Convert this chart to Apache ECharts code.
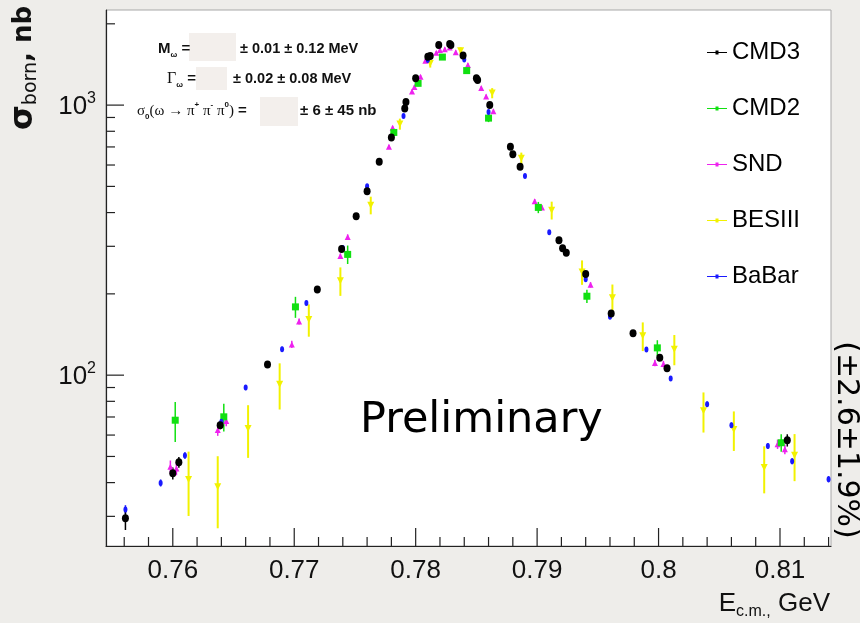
<!DOCTYPE html>
<html>
<head>
<meta charset="utf-8">
<script src="https://cdn.jsdelivr.net/npm/echarts@6/dist/echarts.min.js"></script>
<style>
  html, body { margin: 0; padding: 0; background: #eeedea; }
  #chart { width: 860px; height: 623px; }
</style>
</head>
<body>
<div id="chart"></div>
<script>
// e+e- -> pi+ pi- pi0 Born cross section near the omega peak, by experiment.
// Each experiment: c.m. energy (GeV), cross section (nb), statistical error (nb).
const cmd3Energy = [0.7561, 0.7600, 0.7605, 0.7639, 0.7678, 0.7719, 0.7739, 0.7751, 0.7760, 0.7770,
  0.7780, 0.7791, 0.7792, 0.7800, 0.7810, 0.7812, 0.7819, 0.7828, 0.7829, 0.7839,
  0.7850, 0.7851, 0.7861, 0.7878, 0.7880, 0.7886, 0.7918, 0.7921, 0.7924, 0.7940,
  0.7961, 0.7979, 0.8001, 0.8007, 0.8106];
const cmd3Sigma = [29.5, 43.3, 47.6, 65.3, 109.6, 207.7, 293, 388, 480, 617,
  759, 972, 1026, 1256, 1510, 1519, 1668, 1682, 1668, 1525,
  1256, 1240, 1000, 701, 657, 591, 316, 295, 284, 237,
  169, 143, 116, 106, 57.4];
const cmd3Err = [2.8, 2.2, 2.2, 2.2, 2.5, 4, 5, 8, 9, 10,
  12, 14, 15, 17, 19, 19, 21, 21, 21, 20,
  17, 17, 14, 10, 10, 9, 6, 5, 5, 5,
  4, 3.5, 3, 3, 3];

const cmd2Energy = [0.7602, 0.7642, 0.7701, 0.7744, 0.7782, 0.7802, 0.7822, 0.7842, 0.7860, 0.7901,
  0.7941, 0.7999, 0.8101];
const cmd2Sigma = [68.1, 70.1, 179, 280, 792, 1204, 1506, 1342, 895, 418,
  196, 126.2, 56.2];
const cmd2Err = [11.5, 8.2, 16, 22, 25, 30, 35, 32, 30, 20,
  11, 8.5, 4.2];

const sndEnergy = [0.7598, 0.7603, 0.7637, 0.7644, 0.7698, 0.7704, 0.7738, 0.7744, 0.7778, 0.7781,
  0.7797, 0.7799, 0.7804, 0.7808, 0.7817, 0.7820, 0.7824, 0.7828, 0.7833, 0.7843,
  0.7854, 0.7858, 0.7864, 0.7898, 0.7904, 0.7944, 0.7997, 0.8004, 0.8098, 0.8104];
const sndSigma = [45.8, 45.1, 62.6, 67.7, 130, 158, 276, 325, 701, 824,
  1122, 1166, 1273, 1459, 1562, 1599, 1610, 1633, 1571, 1407,
  1156, 1077, 948, 441, 418, 216, 111, 110, 55.5, 53.2];
const sndErr = [2.5, 2.5, 3, 3, 4, 4, 6, 7, 12, 14,
  18, 18, 20, 22, 23, 24, 24, 24, 23, 21,
  18, 17, 15, 8, 8, 5, 3, 3, 2.2, 2.2];

const bes3Energy = [0.7613, 0.7637, 0.7662, 0.7688, 0.7712, 0.7738, 0.7763, 0.7787, 0.7812, 0.7837,
  0.7863, 0.7887, 0.7912, 0.7937, 0.7962, 0.7987, 0.8013, 0.8037, 0.8062, 0.8087,
  0.8112];
const bes3Sigma = [41.1, 38.6, 63.4, 92.6, 160.8, 223.6, 426, 851, 1427, 1589,
  1108, 635, 408, 241, 193.6, 139.8, 124.8, 73.8, 62.9, 45.5,
  50.5];
const bes3Err = [11, 11.5, 14, 18, 22, 27, 32, 40, 50, 48,
  48, 32, 31, 25, 23, 17, 16, 12.5, 10.5, 9,
  10];

const babarEnergy = [0.7561, 0.7590, 0.7610, 0.7640, 0.7660, 0.7690, 0.7710, 0.7740, 0.7760, 0.7790,
  0.7810, 0.7840, 0.7860, 0.7890, 0.7910, 0.7940, 0.7960, 0.7990, 0.8010, 0.8040,
  0.8060, 0.8090, 0.8110, 0.8140];
const babarSigma = [31.8, 39.9, 50.4, 67.2, 90.0, 124.8, 185, 296, 501, 911,
  1468, 1474, 942, 546, 338, 226.7, 164.4, 124.5, 97.2, 78.1,
  65.3, 54.7, 48, 41.2];
const babarErr = [1.2, 1.2, 1.4, 1.7, 2, 2.5, 3.5, 5, 8, 14,
  20, 20, 14, 9, 6, 4, 3, 2.5, 2, 1.8,
  1.5, 1.3, 1.2, 1.1];

// Axis ranges and tick positions
const xRange = [0.7545, 0.8142];
const yRange = [23.3, 2250];
const xMajorTicks = [0.76, 0.77, 0.78, 0.79, 0.80, 0.81];
const xMinorTicks = [0.756, 0.758, 0.762, 0.764, 0.766, 0.768, 0.772, 0.774, 0.776, 0.778,
  0.782, 0.784, 0.786, 0.788, 0.792, 0.794, 0.796, 0.798, 0.802, 0.804, 0.806, 0.808, 0.812, 0.814];
const yMajorTicks = [100, 1000];
const yMinorTicks = [30, 40, 50, 60, 70, 80, 90, 200, 300, 400, 500, 600, 700, 800, 900, 2000];

const legendNames = ['CMD3', 'CMD2', 'SND', 'BESIII', 'BaBar'];

const NARROW = '"Liberation Sans Narrow", "Liberation Sans", Arial, sans-serif';

const experiments = [
  { name: 'BESIII', e: bes3Energy, s: bes3Sigma, d: bes3Err, color: '#f2f200', symbol: 'triangle', rotate: 180, size: 7, lw: 2 },
  { name: 'SND', e: sndEnergy, s: sndSigma, d: sndErr, color: '#ee22ee', symbol: 'triangle', rotate: 0, size: 6, lw: 1.5 },
  { name: 'CMD2', e: cmd2Energy, s: cmd2Sigma, d: cmd2Err, color: '#11e011', symbol: 'rect', rotate: 0, size: 7, lw: 1.5 },
  { name: 'BaBar', e: babarEnergy, s: babarSigma, d: babarErr, color: '#1a1aff', symbol: 'circle', rotate: 0, size: [4, 6], lw: 1.5 },
  { name: 'CMD3', e: cmd3Energy, s: cmd3Sigma, d: cmd3Err, color: '#000000', symbol: 'circle', rotate: 0, size: [7, 8], lw: 1.5 }
];

const series = [];
experiments.forEach(function (ex) {
  // vertical error bars
  series.push({
    name: ex.name + ' errors',
    type: 'custom',
    silent: true,
    data: ex.e.map(function (x, i) { return [x, ex.s[i], ex.d[i]]; }),
    encode: { x: 0, y: 1 },
    renderItem: function (params, api) {
      const x = api.value(0), y = api.value(1), d = api.value(2);
      const lo = api.coord([x, Math.max(y - d, yRange[0])]);
      const hi = api.coord([x, y + d]);
      return {
        type: 'line',
        shape: { x1: lo[0], y1: lo[1], x2: hi[0], y2: hi[1] },
        style: { stroke: ex.color, lineWidth: ex.lw }
      };
    },
    z: 3
  });
  // markers
  series.push({
    name: ex.name,
    type: 'scatter',
    silent: true,
    data: ex.e.map(function (x, i) { return [x, ex.s[i]]; }),
    symbol: ex.symbol,
    symbolRotate: ex.rotate,
    symbolSize: ex.size,
    itemStyle: { color: ex.color, opacity: 1 },
    z: 4
  });
});

// tick marks drawn inside the frame
function tickSeries(name, data, len, horizontal) {
  return {
    name: name,
    type: 'custom',
    silent: true,
    data: data,
    encode: { x: 0, y: 1 },
    renderItem: function (params, api) {
      const p = api.coord([api.value(0), api.value(1)]);
      const shape = horizontal
        ? { x1: p[0], y1: p[1], x2: p[0] + len, y2: p[1] }
        : { x1: p[0], y1: p[1], x2: p[0], y2: p[1] - len };
      return { type: 'line', shape: shape, style: { stroke: '#222', lineWidth: 1.2 } };
    },
    z: 2
  };
}
series.push(tickSeries('x major', xMajorTicks.map(function (v) { return [v, yRange[0]]; }), 18, false));
series.push(tickSeries('x minor', xMinorTicks.map(function (v) { return [v, yRange[0]]; }), 9, false));
series.push(tickSeries('y major', yMajorTicks.map(function (v) { return [xRange[0], v]; }), 18, true));
series.push(tickSeries('y minor', yMinorTicks.map(function (v) { return [xRange[0], v]; }), 9, true));

function legendIcon() {
  return 'path://M0,1.5H20V2.5H0ZM8.5,0H11.5V4H8.5Z';
}

const chart = echarts.init(document.getElementById('chart'), null, { renderer: 'canvas' });
chart.setOption({
  backgroundColor: '#eeedea',
  animation: false,
  grid: {
    left: 106, right: 29, top: 10, bottom: 77,
    show: true, backgroundColor: '#ffffff', borderColor: '#a8a8a8', borderWidth: 1
  },
  legend: {
    data: legendNames.map(function (n) { return { name: n, icon: legendIcon() }; }),
    orient: 'vertical',
    left: 702, top: 33,
    itemWidth: 20, itemHeight: 4,
    itemGap: 27,
    selectedMode: false,
    textStyle: { fontFamily: NARROW, fontSize: 24, color: '#000', lineHeight: 29, padding: [0, 0, 0, 0] }
  },
  xAxis: {
    type: 'value',
    min: xRange[0], max: xRange[1],
    axisLine: { onZero: false, lineStyle: { color: '#222', width: 1.2 } },
    axisTick: { show: false },
    splitLine: { show: false },
    axisLabel: {
      margin: 12,
      fontFamily: NARROW, fontSize: 26, color: '#111',
      formatter: function (v) {
        if (Math.abs(v * 100 - Math.round(v * 100)) > 1e-6) return '';
        return String(+v.toFixed(2));
      }
    }
  },
  yAxis: {
    type: 'log',
    min: yRange[0], max: yRange[1],
    axisLine: { onZero: false, lineStyle: { color: '#222', width: 1.2 } },
    axisTick: { show: false },
    splitLine: { show: false },
    axisLabel: {
      margin: 10,
      formatter: function (v) {
        const lg = Math.log10(v);
        const e = Math.round(lg);
        if (Math.abs(lg - e) > 1e-6) return '';
        return '{b|10}{sup|' + e + '}';
      },
      rich: {
        b: { fontFamily: NARROW, fontSize: 26, color: '#111', lineHeight: 30, verticalAlign: 'bottom' },
        sup: { fontFamily: NARROW, fontSize: 16, color: '#111', lineHeight: 30, verticalAlign: 'top', padding: [0, 0, 12, 0] }
      }
    }
  },
  graphic: [
    // fit parameters (values masked)
    { type: 'rect', shape: { x: 189, y: 33, width: 47, height: 28 }, style: { fill: '#f3efec' }, z: 10 },
    { type: 'rect', shape: { x: 196, y: 67, width: 31, height: 23 }, style: { fill: '#f3efec' }, z: 10 },
    { type: 'rect', shape: { x: 260, y: 97, width: 38, height: 29 }, style: { fill: '#f3efec' }, z: 10 },
    {
      type: 'text', x: 158, y: 49, z: 11,
      style: {
        text: '{b|M}{s|ω}{b| =}', verticalAlign: 'middle',
        rich: {
          b: { font: 'bold 15px ' + NARROW, fill: '#111', lineHeight: 20 },
          s: { font: 'bold 8px ' + NARROW, fill: '#111', lineHeight: 20, verticalAlign: 'bottom', padding: [6, 0, 0, 0] }
        }
      }
    },
    { type: 'text', x: 240, y: 49, z: 11, style: { text: '± 0.01 ± 0.12 MeV', font: 'bold 14.5px ' + NARROW, fill: '#111', verticalAlign: 'middle' } },
    {
      type: 'text', x: 167, y: 79, z: 11,
      style: {
        text: '{g|Γ}{s|ω}{b| =}', verticalAlign: 'middle',
        rich: {
          g: { font: '16px "Liberation Serif", serif', fill: '#111', lineHeight: 20 },
          b: { font: 'bold 15px ' + NARROW, fill: '#111', lineHeight: 20 },
          s: { font: 'bold 8px ' + NARROW, fill: '#111', lineHeight: 20, verticalAlign: 'bottom', padding: [6, 0, 0, 0] }
        }
      }
    },
    { type: 'text', x: 233, y: 79, z: 11, style: { text: '± 0.02 ± 0.08 MeV', font: 'bold 14.5px ' + NARROW, fill: '#111', verticalAlign: 'middle' } },
    {
      type: 'text', x: 137, y: 111, z: 11,
      style: {
        text: '{g|σ}{s|0}{g|(ω → π}{p|+}{g| π}{p|-}{g| π}{p|0}{g|)}{b| =}', verticalAlign: 'middle',
        rich: {
          g: { font: '15px "Liberation Serif", serif', fill: '#111', lineHeight: 20 },
          b: { font: 'bold 15px ' + NARROW, fill: '#111', lineHeight: 20 },
          s: { font: 'bold 8px ' + NARROW, fill: '#111', lineHeight: 20, verticalAlign: 'bottom', padding: [6, 0, 0, 0] },
          p: { font: 'bold 8px ' + NARROW, fill: '#111', lineHeight: 20, verticalAlign: 'top', padding: [0, 0, 6, 0] }
        }
      }
    },
    { type: 'text', x: 300, y: 111, z: 11, style: { text: '± 6 ± 45 nb', font: 'bold 15px ' + NARROW, fill: '#111', verticalAlign: 'middle' } },
    // watermark and normalisation note
    { type: 'text', x: 360, y: 421, z: 11, style: { text: 'Preliminary', font: '43px "DejaVu Sans", sans-serif', fill: '#000', verticalAlign: 'middle' } },
    { type: 'text', x: 846, y: 440, rotation: -Math.PI / 2, z: 11, style: { text: '(±2.6±1.9%)', font: '30px "DejaVu Sans", sans-serif', fill: '#000', align: 'center', verticalAlign: 'middle' } },
    // axis titles
    {
      type: 'text', x: 24, y: 68, rotation: Math.PI / 2, z: 11,
      style: {
        text: '{s|σ}{sub|born}{b|, nb}', align: 'center', verticalAlign: 'middle',
        rich: {
          s: { font: 'bold 32px "DejaVu Sans", sans-serif', fill: '#111', lineHeight: 34 },
          sub: { font: '19px "DejaVu Sans", sans-serif', fill: '#111', lineHeight: 34, verticalAlign: 'bottom', padding: [10, 0, 0, 0] },
          b: { font: 'bold 26px "DejaVu Sans", sans-serif', fill: '#111', lineHeight: 34 }
        }
      }
    },
    {
      type: 'text', x: 830, y: 604, z: 11,
      style: {
        text: '{e|E}{sub|c.m.,}{e| GeV}', align: 'right', verticalAlign: 'middle',
        rich: {
          e: { font: '26px ' + NARROW, fill: '#111', lineHeight: 32 },
          sub: { font: '16px ' + NARROW, fill: '#111', lineHeight: 32, verticalAlign: 'bottom', padding: [12, 0, 0, 0] }
        }
      }
    }
  ],
  series: series
});
</script>
</body>
</html>
